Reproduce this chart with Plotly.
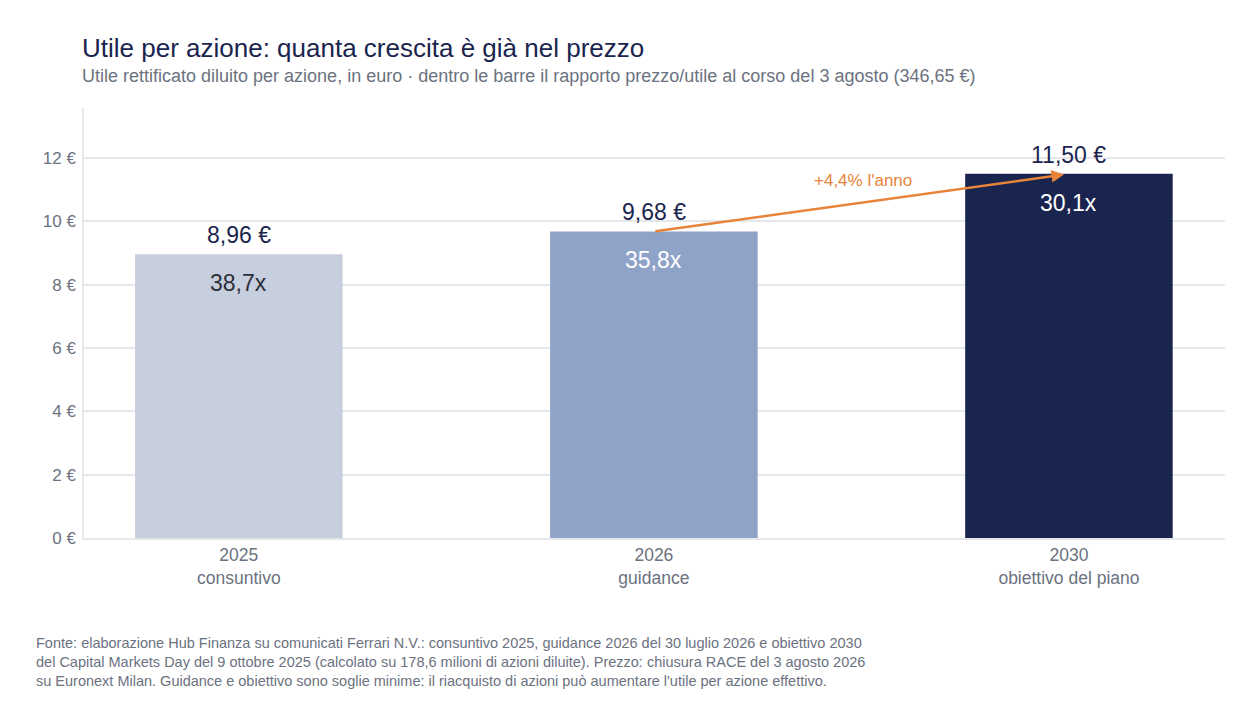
import plotly.graph_objects as go

# dati
anni = ["2025", "2026", "2030"]
fasi = ["consuntivo", "guidance", "obiettivo del piano"]
utile = [8.96, 9.68, 11.50]
pe_ratio = [38.7, 35.8, 30.1]
tick_vals = [0, 2, 4, 6, 8, 10, 12]

bar_colors = ["#c7cedd", "#8fa3c8", "#1a254f"]
inner_colors = ["#2b2f3a", "#ffffff", "#ffffff"]
NAVY = "#1a254f"
GREY = "#6b7280"
ORANGE = "#e8833a"
FONT = "Liberation Sans, Arial, sans-serif"

categorie = [f"{a}<br>{f}" for a, f in zip(anni, fasi)]


def euro(v):
    return f"{v:.2f}".replace(".", ",") + " €"


fig = go.Figure()
fig.add_trace(go.Bar(
    x=categorie,
    y=utile,
    width=0.5,
    marker=dict(color=bar_colors, line=dict(width=0)),
    hoverinfo="skip",
))

# etichette sopra e dentro le barre
for cat, v, pe, col in zip(categorie, utile, pe_ratio, inner_colors):
    fig.add_annotation(x=cat, y=v, text=euro(v), showarrow=False,
                       yanchor="bottom", yshift=4,
                       font=dict(size=23, color=NAVY, family=FONT))
    fig.add_annotation(x=cat, y=v, text=f"{pe:.1f}x".replace(".", ","),
                       showarrow=False, yanchor="top", yshift=-14,
                       font=dict(size=23, color=col, family=FONT))

# freccia di crescita 2026 -> 2030
fig.add_annotation(x=categorie[2], y=utile[2], ax=categorie[1], ay=utile[1],
                   xref="x", yref="y", axref="x", ayref="y",
                   showarrow=True, arrowhead=2, arrowsize=1, arrowwidth=2.5,
                   arrowcolor=ORANGE, standoff=5, text="")
fig.add_annotation(x=1.5, y=(utile[1] + utile[2]) / 2, text="+4,4% l'anno",
                   showarrow=False, yshift=22, xshift=2,
                   font=dict(size=17, color=ORANGE, family=FONT))

# titolo e sottotitolo
fig.add_annotation(x=0, y=1, xref="paper", yref="paper", xanchor="left",
                   yanchor="middle", yshift=60, xshift=-4, showarrow=False,
                   text="Utile per azione: quanta crescita è già nel prezzo",
                   font=dict(size=26, color=NAVY, family=FONT))
fig.add_annotation(x=0, y=1, xref="paper", yref="paper", xanchor="left",
                   yanchor="middle", yshift=32, xshift=-4, showarrow=False,
                   text=("Utile rettificato diluito per azione, in euro · dentro le barre "
                         "il rapporto prezzo/utile al corso del 3 agosto (346,65 €)"),
                   font=dict(size=18, color=GREY, family=FONT))

fig.add_annotation(
    x=0, y=0, xref="paper", yref="paper", xanchor="left", yanchor="top",
    xshift=-50, yshift=-95, align="left", showarrow=False,
    text=("Fonte: elaborazione Hub Finanza su comunicati Ferrari N.V.: consuntivo 2025, guidance 2026 del 30 luglio 2026 e obiettivo 2030<br>"
          "del Capital Markets Day del 9 ottobre 2025 (calcolato su 178,6 milioni di azioni diluite). Prezzo: chiusura RACE del 3 agosto 2026<br>"
          "su Euronext Milan. Guidance e obiettivo sono soglie minime: il riacquisto di azioni può aumentare l'utile per azione effettivo."),
    font=dict(size=14.5, color=GREY, family=FONT),
)

fig.update_layout(
    width=1260, height=721,
    plot_bgcolor="white", paper_bgcolor="white",
    font=dict(family=FONT, color=GREY),
    margin=dict(l=76, r=43, t=100, b=191),
    showlegend=False,
    xaxis=dict(range=[-0.373, 2.376], showline=True, linecolor="#e5e7eb",
               linewidth=2, tickfont=dict(size=17.5, color=GREY), ticks=""),
    yaxis=dict(range=[0, 13.58], tickvals=tick_vals,
               ticktext=[f"{t} €" for t in tick_vals],
               showgrid=True, gridcolor="#e5e7eb", gridwidth=1.5,
               showline=True, linecolor="#e5e7eb", linewidth=1.5,
               ticks="outside", tickcolor="rgba(0,0,0,0)", ticklen=3,
               zeroline=False,
               tickfont=dict(size=17, color=GREY)),
)

fig.write_html("out.html")
